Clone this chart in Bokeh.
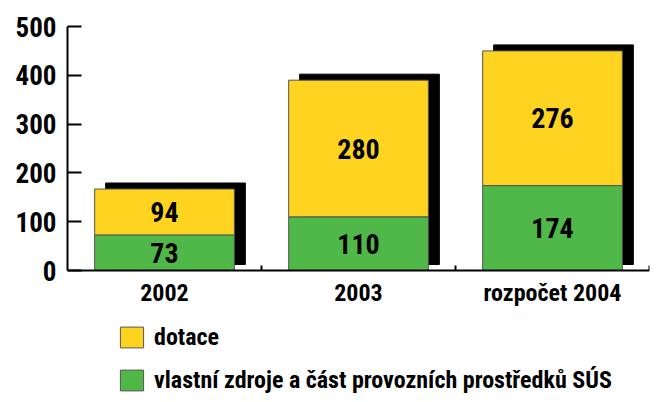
from bokeh.plotting import figure
from bokeh.models import ColumnDataSource, FactorRange, Range1d, Legend, LegendItem, FixedTicker
from bokeh.transform import dodge
from bokeh.core.properties import value
from bokeh.embed import file_html
from bokeh.resources import INLINE

categories = ["2002", "2003", "rozpočet 2004"]
vlastni = [73, 110, 174]
dotace = [94, 280, 276]
y_ticks = [0, 100, 200, 300, 400, 500]
series_names = ["dotace", "vlastní zdroje a část provozních prostředků SÚS"]

FONT = "Roboto Condensed"
YELLOW = "#FFD420"
GREEN = "#50B848"

# frame: y=500 at 26px, y=0 at 270px, frame reaches the figure bottom (400px)
PX_PER_UNIT = 244 / 500
Y_MIN = -(400 - 270) / PX_PER_UNIT

totals = [a + b for a, b in zip(vlastni, dotace)]
src = ColumnDataSource(dict(
    cat=categories, v=vlastni, d=dotace, tot=totals,
    sh_bot=[6 / PX_PER_UNIT] * len(categories),
    sh_top=[t + 6 / PX_PER_UNIT for t in totals],
    v_mid=[a / 2 for a in vlastni],
    d_mid=[a + b / 2 for a, b in zip(vlastni, dotace)],
    v_lab=[str(a) for a in vlastni], d_lab=[str(b) for b in dotace],
    tick0=[0] * len(categories), tick1=[5 / PX_PER_UNIT] * len(categories),
))

p = figure(x_range=FactorRange(*categories), y_range=Range1d(Y_MIN, 500),
           width=654, height=400, output_backend="svg", toolbar_location=None,
           min_border_left=67, min_border_right=5, min_border_top=26, min_border_bottom=0)

BW = 0.72
p.vbar(x=dodge("cat", 11 / 194, range=p.x_range), bottom="sh_bot", top="sh_top", width=BW,
       source=src, fill_color="black", line_color="black")
g = p.vbar(x="cat", bottom=0, top="v", width=BW, source=src,
           fill_color=GREEN, line_color="#555555", line_width=1)
y = p.vbar(x="cat", bottom="v", top="tot", width=BW, source=src,
           fill_color=YELLOW, line_color="#555555", line_width=1)

for col, lab in (("v_mid", "v_lab"), ("d_mid", "d_lab")):
    p.text(x="cat", y=col, text=lab, source=src, text_align="center", text_baseline="middle",
           text_font=value(FONT), text_font_size="28px", text_font_style="bold", text_color="black")

p.segment(x0=dodge("cat", 0.5, range=p.x_range), y0="tick0",
          x1=dodge("cat", 0.5, range=p.x_range), y1="tick1",
          source=src, line_color="black", line_width=2)

p.xgrid.visible = False
p.ygrid.visible = False
p.outline_line_color = None

p.yaxis.ticker = FixedTicker(ticks=y_ticks)
p.yaxis.bounds = (0, 500)
p.yaxis.major_tick_in = 14
p.yaxis.major_tick_out = 0
p.yaxis.minor_tick_line_color = None
p.yaxis.axis_line_width = 2
p.yaxis.major_tick_line_width = 2
p.yaxis.major_label_standoff = 11
p.yaxis.major_label_text_font = FONT
p.yaxis.major_label_text_font_size = "27px"
p.yaxis.major_label_text_font_style = "bold"
p.yaxis.major_label_text_color = "black"

p.xaxis.fixed_location = 0
p.xaxis.major_tick_in = 0
p.xaxis.major_tick_out = 0
p.xaxis.axis_line_width = 2
p.xaxis.major_label_standoff = 8
p.xaxis.major_label_text_font = FONT
p.xaxis.major_label_text_font_size = "24px"
p.xaxis.major_label_text_font_style = "bold"
p.xaxis.major_label_text_color = "black"

legend = Legend(items=[LegendItem(label=series_names[0], renderers=[y]),
                       LegendItem(label=series_names[1], renderers=[g])],
                location=(50, 6), orientation="vertical",
                glyph_width=29, glyph_height=26, label_height=26, spacing=15,
                padding=0, margin=0, label_standoff=8,
                label_text_font=FONT, label_text_font_size="24px",
                label_text_font_style="bold",
                label_text_color="black",
                border_line_color=None, background_fill_alpha=0)
p.add_layout(legend, "center")

open("out.html", "w").write(file_html(p, INLINE))
